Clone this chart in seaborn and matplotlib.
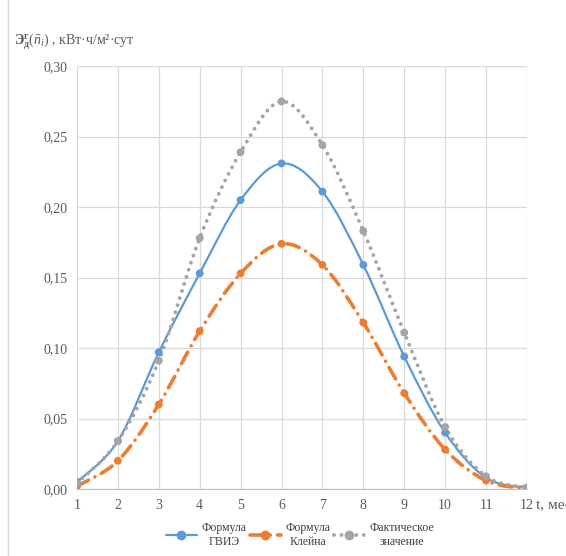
import numpy as np
import pandas as pd
import matplotlib
matplotlib.use("Agg")
import matplotlib.pyplot as plt
from matplotlib.path import Path
from matplotlib.patches import PathPatch
from matplotlib.lines import Line2D
import seaborn as sns

months = list(range(1, 13))
gvie = [0.005, 0.034, 0.097, 0.153, 0.205, 0.231, 0.211, 0.159, 0.094, 0.040, 0.008, 0.001]
klein = [0.002, 0.020, 0.060, 0.112, 0.153, 0.174, 0.159, 0.118, 0.068, 0.028, 0.006, 0.000]
actual = [0.004, 0.034, 0.091, 0.178, 0.239, 0.275, 0.244, 0.183, 0.111, 0.044, 0.009, 0.001]
labels = ["Формула\nГВИЭ", "Формула\nКлейна", "Фактическое\nзначение"]
y_ticks = [0.00, 0.05, 0.10, 0.15, 0.20, 0.25, 0.30]

df = pd.DataFrame({"t": months * 3,
                   "val": gvie + klein + actual,
                   "series": [labels[0]] * 12 + [labels[1]] * 12 + [labels[2]] * 12})

colors = {labels[0]: "#5B9BD5", labels[1]: "#ED7D31", labels[2]: "#A5A5A5"}
styles = {labels[0]: dict(lw=1.6, ls="-"),
          labels[1]: dict(lw=2.6, ls=(0, (3.6, 2.0, 0.01, 2.0))),
          labels[2]: dict(lw=2.8, ls=(0, (0.01, 1.9)))}

sns.set_style("white")
plt.rcParams["font.family"] = ["Liberation Serif", "DejaVu Serif"]
plt.rcParams["mathtext.fontset"] = "custom"
plt.rcParams["mathtext.rm"] = "Liberation Serif"
plt.rcParams["mathtext.it"] = "Liberation Serif:italic"
plt.rcParams["mathtext.bf"] = "Liberation Serif:bold"

fig = plt.figure(figsize=(5.66, 5.56), dpi=100)
ax = fig.add_axes([0.136, 0.1205, 0.795, 0.7605])


def smooth_path(x, y):
    # Excel-like smoothed line: Catmull-Rom segments as cubic Bezier
    x = np.asarray(x, float); y = np.asarray(y, float)
    verts = [(x[0], y[0])]
    codes = [Path.MOVETO]
    n = len(x)
    for i in range(n - 1):
        x0, y0 = (x[i - 1], y[i - 1]) if i > 0 else (x[i], y[i])
        x3, y3 = (x[i + 2], y[i + 2]) if i + 2 < n else (x[i + 1], y[i + 1])
        c1 = (x[i] + (x[i + 1] - x0) / 6, y[i] + (y[i + 1] - y0) / 6)
        c2 = (x[i + 1] - (x3 - x[i]) / 6, y[i + 1] - (y3 - y[i]) / 6)
        verts += [c1, c2, (x[i + 1], y[i + 1])]
        codes += [Path.CURVE4] * 3
    return Path(verts, codes)


for name in labels:
    sub = df[df["series"] == name]
    st = styles[name]
    patch = PathPatch(smooth_path(sub["t"], sub["val"]), fill=False,
                      edgecolor=colors[name], lw=st["lw"], ls=st["ls"],
                      capstyle="round", zorder=3)
    ax.add_patch(patch)

sns.scatterplot(data=df, x="t", y="val", hue="series", palette=colors,
                s=32, edgecolor="none", legend=False, ax=ax, zorder=4)

ax.set_xlim(1, 12)
ax.set_ylim(0, 0.30)
ax.set_xticks(months)
ax.set_yticks(y_ticks)
ax.set_yticklabels([f"{v:.2f}".replace(".", ",") for v in y_ticks])
ax.grid(True, color="#d9d9d9", lw=0.9)
ax.set_axisbelow(True)
for s in ["top", "right", "left"]:
    ax.spines[s].set_visible(False)
ax.spines["bottom"].set_color("#bfbfbf")
ax.tick_params(axis="both", length=0, labelsize=10, colors="#595959", pad=7)
ax.set_xlabel(""); ax.set_ylabel("")

fig.text(14 / 566, 1 - 42 / 556,
         r"$\mathbf{Э}^{\mathbf{г}}_{\mathbf{д}}(\bar{n}_i)$ , кВт·ч/м²·сут",
         fontsize=10, color="#595959", va="center", ha="left")
fig.text(536 / 566, 1 - 506 / 556, "t, мес", fontsize=11, color="#595959",
         va="center", ha="left")

handles = []
for name in labels:
    st = styles[name]
    handles.append(Line2D([], [], color=colors[name], lw=st["lw"], ls=st["ls"],
                          dash_capstyle="round", marker="o", markersize=6))
leg = fig.legend(handles, labels, loc="center", bbox_to_anchor=(300 / 566, 1 - 535 / 556),
                 ncol=3, frameon=False, fontsize=8.5, handlelength=2.6,
                 columnspacing=0.3, handletextpad=0.4, labelcolor="#404040")
for t in leg.get_texts():
    t.set_multialignment("center")

fig.add_artist(Line2D([8 / 566, 8 / 566], [0, 1], color="#d9d9d9", lw=1))

fig.savefig("out.png", dpi=100)
